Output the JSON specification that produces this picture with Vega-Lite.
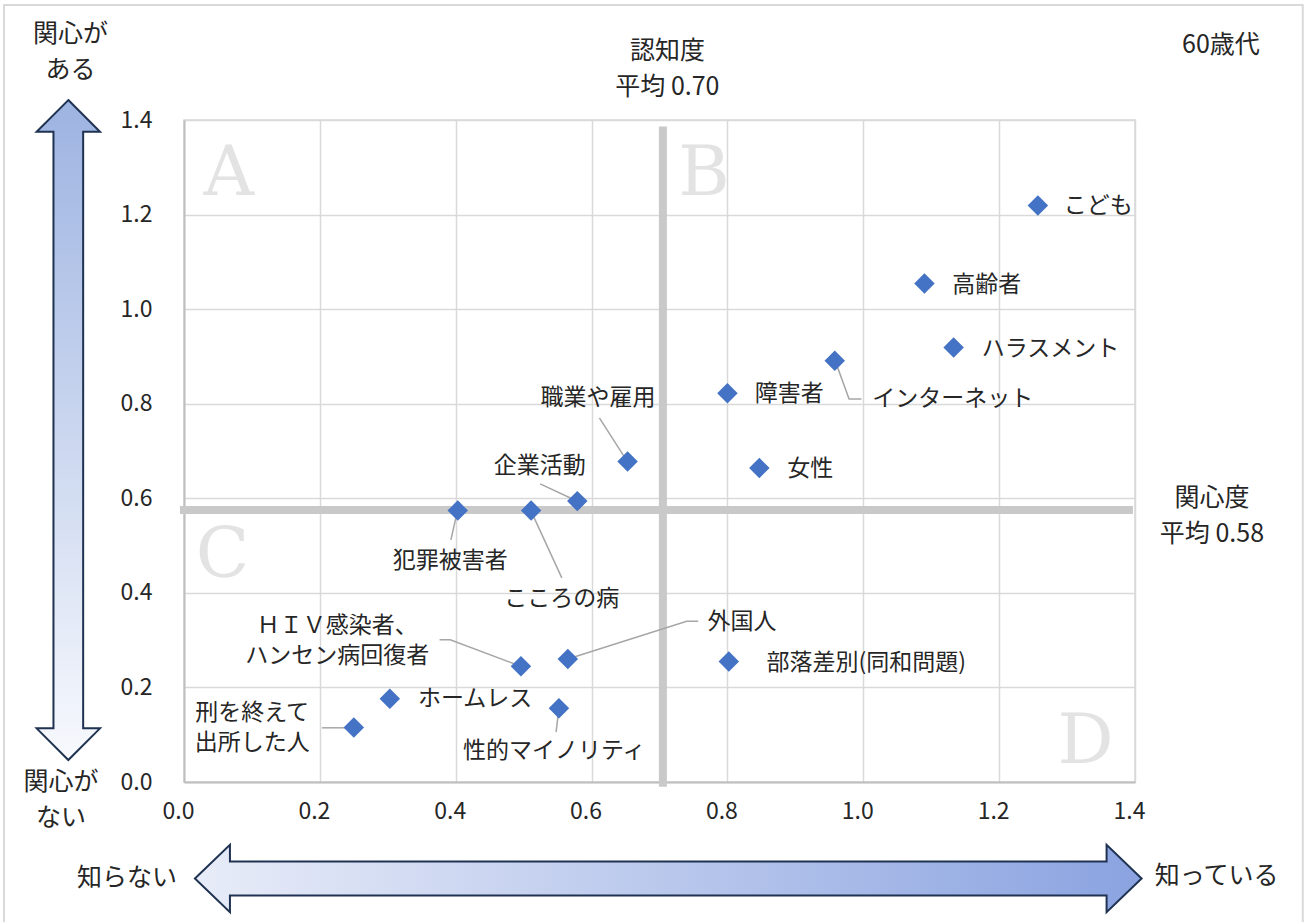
{
  "$schema": "https://vega.github.io/schema/vega-lite/v6.json",
  "width": 951,
  "height": 662,
  "autosize": {"type": "none"},
  "padding": {"left": 184, "top": 120, "right": 172, "bottom": 140},
  "background": "white",
  "config": {
    "view": {"stroke": "#d9d9d9", "strokeWidth": 1.5},
    "text": {"font": "Noto Sans CJK JP", "color": "#262626"}
  },
  "datasets": {
    "frame": [{"x": -0.265, "x2": 1.647, "y": -0.31, "y2": 1.643}],
    "letters": [
      {"x": 0.066, "y": 1.2406, "t": "A"},
      {"x": 0.7655, "y": 1.2406, "t": "B"},
      {"x": 0.0567, "y": 0.4335, "t": "C"},
      {"x": 1.3271, "y": 0.0408, "t": "D"}
    ],
    "avg": [
      {"x": 0.705, "x2": 0.705, "y": -0.01, "y2": 1.386},
      {"x": -0.006, "x2": 1.397, "y": 0.575, "y2": 0.575}
    ],
    "leaders": [
      {"g": "インターネット", "o": 1, "x": 0.9596, "y": 0.8869},
      {"g": "インターネット", "o": 2, "x": 0.9791, "y": 0.8102},
      {"g": "インターネット", "o": 3, "x": 0.9973, "y": 0.8102},
      {"g": "職業や雇用", "o": 1, "x": 0.6115, "y": 0.770},
      {"g": "職業や雇用", "o": 2, "x": 0.6518, "y": 0.6797},
      {"g": "企業活動", "o": 1, "x": 0.5243, "y": 0.6304},
      {"g": "企業活動", "o": 2, "x": 0.5791, "y": 0.5937},
      {"g": "犯罪被害者", "o": 1, "x": 0.3929, "y": 0.5121},
      {"g": "犯罪被害者", "o": 2, "x": 0.4026, "y": 0.574},
      {"g": "こころの病", "o": 1, "x": 0.5562, "y": 0.4317},
      {"g": "こころの病", "o": 2, "x": 0.5106, "y": 0.574},
      {"g": "外国人", "o": 1, "x": 0.565, "y": 0.260},
      {"g": "外国人", "o": 2, "x": 0.740, "y": 0.340},
      {"g": "外国人", "o": 3, "x": 0.757, "y": 0.340},
      {"g": "HIV", "o": 1, "x": 0.3762, "y": 0.3006},
      {"g": "HIV", "o": 2, "x": 0.3919, "y": 0.3006},
      {"g": "HIV", "o": 3, "x": 0.4959, "y": 0.2448},
      {"g": "性的マイノリティ", "o": 1, "x": 0.5478, "y": 0.1053},
      {"g": "性的マイノリティ", "o": 2, "x": 0.5518, "y": 0.156},
      {"g": "刑を終えて", "o": 1, "x": 0.2032, "y": 0.1146},
      {"g": "刑を終えて", "o": 2, "x": 0.2497, "y": 0.1146}
    ],
    "arrows": [
      {"kind": "v", "x": -0.1703, "y": 0.7443},
      {"kind": "h", "x": 0.7129, "y": -0.2041}
    ],
    "points": [
      {"name": "こども", "x": 1.257, "y": 1.219},
      {"name": "高齢者", "x": 1.090, "y": 1.054},
      {"name": "ハラスメント", "x": 1.133, "y": 0.919},
      {"name": "インターネット", "x": 0.958, "y": 0.891},
      {"name": "障害者", "x": 0.800, "y": 0.822},
      {"name": "女性", "x": 0.847, "y": 0.664},
      {"name": "職業や雇用", "x": 0.653, "y": 0.678},
      {"name": "企業活動", "x": 0.579, "y": 0.594},
      {"name": "犯罪被害者", "x": 0.403, "y": 0.574},
      {"name": "こころの病", "x": 0.511, "y": 0.574},
      {"name": "外国人", "x": 0.565, "y": 0.260},
      {"name": "ＨＩＶ感染者、ハンセン病回復者", "x": 0.496, "y": 0.245},
      {"name": "性的マイノリティ", "x": 0.552, "y": 0.156},
      {"name": "ホームレス", "x": 0.303, "y": 0.176},
      {"name": "刑を終えて出所した人", "x": 0.250, "y": 0.115},
      {"name": "部落差別(同和問題)", "x": 0.802, "y": 0.255}
    ],
    "labels": [
      {"t": "こども", "x": 1.346, "y": 1.219},
      {"t": "高齢者", "x": 1.1816, "y": 1.052},
      {"t": "ハラスメント", "x": 1.2757, "y": 0.9165},
      {"t": "インターネット", "x": 1.1316, "y": 0.810},
      {"t": "障害者", "x": 0.891, "y": 0.820},
      {"t": "女性", "x": 0.9218, "y": 0.662},
      {"t": "職業や雇用", "x": 0.6096, "y": 0.8118},
      {"t": "企業活動", "x": 0.5238, "y": 0.669},
      {"t": "犯罪被害者", "x": 0.3919, "y": 0.4677},
      {"t": "こころの病", "x": 0.5562, "y": 0.3873},
      {"t": "外国人", "x": 0.8213, "y": 0.3393},
      {"t": "ＨＩＶ感染者、\nハンセン病回復者", "x": 0.2257, "y": 0.3299},
      {"t": "ホームレス", "x": 0.4287, "y": 0.1765},
      {"t": "性的マイノリティ", "x": 0.5451, "y": 0.0649},
      {"t": "刑を終えて\n出所した人", "x": 0.1003, "y": 0.1453},
      {"t": "部落差別(同和問題)", "x": 1.0045, "y": 0.2526}
    ],
    "outer": [
      {"t": "関心が\nある", "x": -0.1671, "y": 1.5817},
      {"t": "関心が\nない", "x": -0.1811, "y": 0.0},
      {"t": "知らない", "x": -0.0839, "y": -0.2036},
      {"t": "知っている", "x": 1.5202, "y": -0.1983},
      {"t": "60歳代", "x": 1.5266, "y": 1.5585},
      {"t": "関心度\n平均 0.58", "x": 1.5133, "y": 0.6016},
      {"t": "認知度\n平均 0.70", "x": 0.7116, "y": 1.5452}
    ]
  },
  "encoding": {
    "x": {
      "field": "x", "type": "quantitative",
      "scale": {"domain": [0, 1.4], "nice": false, "zero": false},
      "axis": {
        "title": null, "values": [0, 0.2, 0.4, 0.6, 0.8, 1.0, 1.2, 1.4], "format": ".1f",
        "labelFont": "Noto Sans CJK JP", "labelFontSize": 23, "labelColor": "#262626",
        "ticks": false, "labelPadding": 18, "labelFlush": false, "labelOffset": -6,
        "grid": true, "gridColor": "#d9d9d9", "gridWidth": 1.5,
        "domainColor": "#bfbfbf", "domainWidth": 2
      }
    },
    "y": {
      "field": "y", "type": "quantitative",
      "scale": {"domain": [0, 1.4], "nice": false, "zero": false},
      "axis": {
        "title": null, "values": [0, 0.2, 0.4, 0.6, 0.8, 1.0, 1.2, 1.4], "format": ".1f",
        "labelFont": "Noto Sans CJK JP", "labelFontSize": 23, "labelColor": "#262626",
        "ticks": false, "labelPadding": 32, "labelFlush": false,
        "grid": true, "gridColor": "#d9d9d9", "gridWidth": 1.5,
        "domainColor": "#bfbfbf", "domainWidth": 2
      }
    }
  },
  "layer": [
    {
      "data": {"name": "frame"},
      "mark": {"type": "rect", "fill": "transparent", "stroke": "#d9d9d9", "strokeWidth": 2},
      "encoding": {"x2": {"field": "x2"}, "y2": {"field": "y2"}}
    },
    {
      "data": {"name": "letters"},
      "mark": {"type": "text", "font": "DejaVu Serif", "fontSize": 70, "color": "#e3e3e3", "align": "center", "baseline": "alphabetic"},
      "encoding": {"text": {"field": "t"}}
    },
    {
      "data": {"name": "avg"},
      "mark": {"type": "rule", "color": "#c9c9c9", "strokeWidth": 8},
      "encoding": {"x2": {"field": "x2"}, "y2": {"field": "y2"}}
    },
    {
      "data": {"name": "leaders"},
      "mark": {"type": "line", "color": "#a6a6a6", "strokeWidth": 1.5},
      "encoding": {"detail": {"field": "g"}, "order": {"field": "o"}}
    },
    {
      "data": {"name": "arrows"},
      "transform": [{"filter": "datum.kind === 'v'"}],
      "mark": {
        "type": "point", "filled": true, "opacity": 1, "size": 435600,
        "shape": "M 0 -1 L 0.096 -0.904 L 0.045 -0.904 L 0.045 0.904 L 0.096 0.904 L 0 1 L -0.096 0.904 L -0.045 0.904 L -0.045 -0.904 L -0.096 -0.904 Z",
        "fill": {"gradient": "linear", "x1": 0, "y1": 0, "x2": 0, "y2": 1, "stops": [{"offset": 0, "color": "#9db3e1"}, {"offset": 1, "color": "#f7f9fd"}]},
        "stroke": "#1f3251", "strokeWidth": 2, "strokeOpacity": 1, "fillOpacity": 1
      }
    },
    {
      "data": {"name": "arrows"},
      "transform": [{"filter": "datum.kind === 'h'"}],
      "mark": {
        "type": "point", "filled": true, "opacity": 1, "size": 896241,
        "shape": "M -1 0 L -0.926 -0.071 L -0.926 -0.036 L 0.926 -0.036 L 0.926 -0.071 L 1 0 L 0.926 0.071 L 0.926 0.036 L -0.926 0.036 L -0.926 0.071 Z",
        "fill": {"gradient": "linear", "x1": 0, "y1": 0, "x2": 1, "y2": 0, "stops": [{"offset": 0, "color": "#e8ecf8"}, {"offset": 1, "color": "#8aa3e0"}]},
        "stroke": "#1f3251", "strokeWidth": 2, "strokeOpacity": 1, "fillOpacity": 1
      }
    },
    {
      "data": {"name": "points"},
      "mark": {"type": "point", "shape": "diamond", "size": 420, "filled": true, "color": "#4472C4", "opacity": 1}
    },
    {
      "data": {"name": "labels"},
      "mark": {"type": "text", "fontSize": 23, "align": "center", "baseline": "middle", "lineBreak": "\n", "lineHeight": 30},
      "encoding": {"text": {"field": "t"}}
    },
    {
      "data": {"name": "outer"},
      "mark": {"type": "text", "fontSize": 25, "align": "center", "baseline": "middle", "lineBreak": "\n", "lineHeight": 36},
      "encoding": {"text": {"field": "t"}}
    }
  ]
}
